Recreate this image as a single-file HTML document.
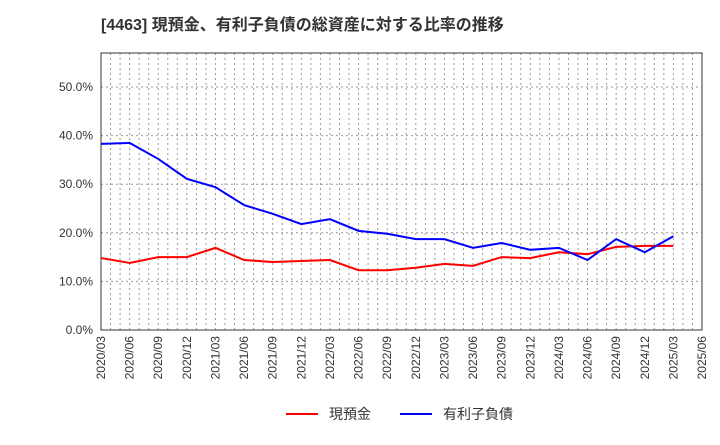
<!DOCTYPE html>
<html><head><meta charset="utf-8"><style>
body{margin:0;background:#fff;font-family:"Liberation Sans","Noto Sans CJK JP",sans-serif;}
</style></head><body>
<svg id="c" width="720" height="440" xmlns="http://www.w3.org/2000/svg">
<text x="101" y="30" font-size="16" font-weight="bold" fill="#333" font-family="Liberation Sans, Noto Sans CJK JP, sans-serif">[4463]  現預金、有利子負債の総資産に対する比率の推移</text>
<g id="grid"></g><g id="axes"></g><g id="series"></g>
<g>
<line x1="286" y1="414" x2="318" y2="414" stroke="#f00" stroke-width="2"/>
<text x="329" y="419" font-size="14" fill="#333">現預金</text>
<line x1="400" y1="414" x2="432" y2="414" stroke="#00f" stroke-width="2"/>
<text x="443" y="419" font-size="14" fill="#333">有利子負債</text>
</g>
</svg>
<script>
const categories=["2020/03","2020/06","2020/09","2020/12","2021/03","2021/06","2021/09","2021/12","2022/03","2022/06","2022/09","2022/12","2023/03","2023/06","2023/09","2023/12","2024/03","2024/06","2024/09","2024/12","2025/03","2025/06"];
const cash=[14.8,13.8,15.0,15.0,16.9,14.4,14.0,14.2,14.4,12.3,12.3,12.8,13.6,13.2,15.0,14.8,16.0,15.6,17.1,17.3,17.3];
const debt=[38.3,38.5,35.2,31.1,29.4,25.7,23.9,21.8,22.8,20.4,19.8,18.7,18.7,16.9,17.9,16.5,16.9,14.4,18.7,16.0,19.3];
const yTicks=[0,10,20,30,40,50];
const L=101,R=702,T=53,B=330;
const step=(R-L)/(categories.length-1);
const xs=i=>L+i*step;
const ys=v=>B-v*(B-87)/50;
const ns="http://www.w3.org/2000/svg";
function mk(t,a,p){const e=document.createElementNS(ns,t);for(const k in a)e.setAttribute(k,a[k]);p.appendChild(e);return e;}
const g=document.getElementById('grid'),ax=document.getElementById('axes'),s=document.getElementById('series');
for(let m=0;m<(categories.length-1)*3;m++){const x=L+m*step/3;
 const l=mk('line',{x1:x,y1:T,x2:x,y2:B,stroke:'#999','stroke-dasharray':'2,3'},g);
 
 
}
categories.forEach((c,i)=>{const x=xs(i);
 const t=mk('text',{x:0,y:0,'font-size':12,fill:'#333','text-anchor':'end',transform:`translate(${x+4},${B+6}) rotate(-90)`},ax);
 t.textContent=c;
 
 
});
yTicks.forEach(v=>{const y=ys(v);
 const l=mk('line',{x1:L,y1:y,x2:R,y2:y,stroke:'#999','stroke-dasharray':'2,3'},g);
 
 
 const t=mk('text',{x:L-8,y:y+4,'font-size':12,fill:'#333','text-anchor':'end'},ax);
 t.textContent=v.toFixed(1)+'%';
 
 
});
const f=mk('rect',{x:L,y:T,width:R-L,height:B-T,fill:'none',stroke:'#333'},ax);


function line(d,col,name){const p=mk('polyline',{points:d.map((v,i)=>xs(i)+','+ys(v)).join(' '),fill:'none',stroke:col,'stroke-width':2},s);
 
 }
line(cash,'#f00','cash-line');
line(debt,'#00f','debt-line');
</script>
</body></html>
